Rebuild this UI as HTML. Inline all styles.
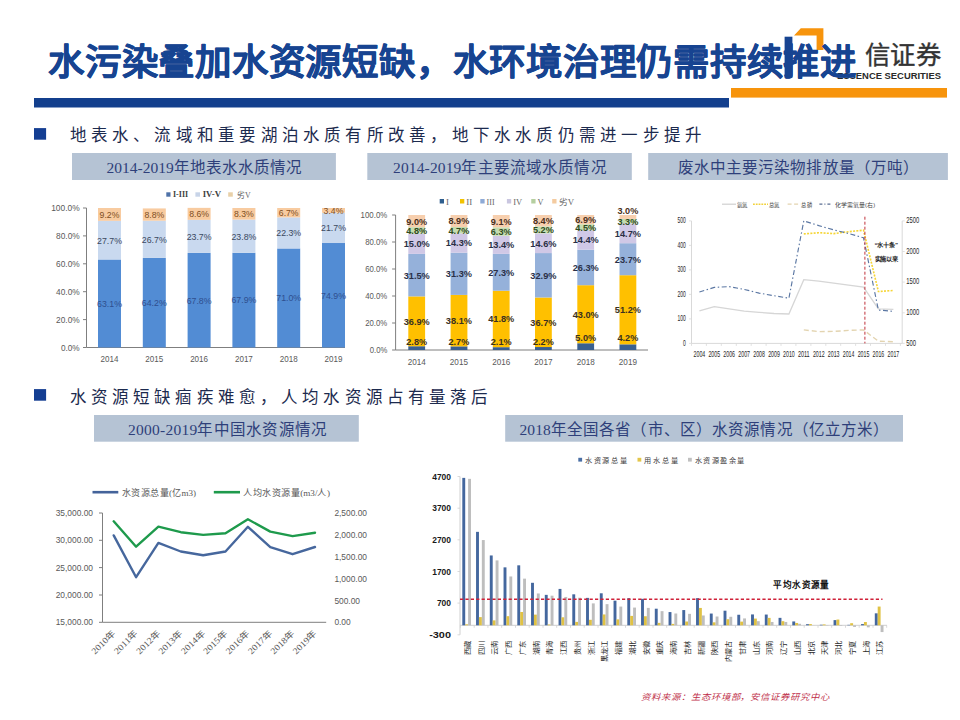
<!DOCTYPE html>
<html lang="zh-CN"><head><meta charset="utf-8"><title>slide</title>
<style>
html,body{margin:0;padding:0;background:#fff;}
body{width:960px;height:720px;overflow:hidden;position:relative;font-family:"Liberation Sans",sans-serif;}
svg{position:absolute;left:0;top:0;}
</style></head><body>
<svg width="960" height="720" viewBox="0 0 960 720">
<rect x="34" y="98" width="695" height="9.5" fill="#133F8D"/>
<rect x="731" y="88" width="216" height="9.6" fill="#F7940C"/>
<rect x="34" y="128.1" width="12.1" height="11.6" fill="#143E92"/>
<rect x="34" y="389.1" width="12.1" height="11.6" fill="#143E92"/>
<text x="69.6" y="141.3" font-size="16.5" fill="#1C2A4E" text-anchor="start" font-weight="300" font-family="'Liberation Sans',sans-serif" textLength="632.4" lengthAdjust="spacing" >地表水、流域和重要湖泊水质有所改善，地下水水质仍需进一步提升</text>
<text x="69.8" y="402.5" font-size="16.5" fill="#1C2A4E" text-anchor="start" font-weight="300" font-family="'Liberation Sans',sans-serif" textLength="418.5" lengthAdjust="spacing" >水资源短缺痼疾难愈，人均水资源占有量落后</text>
<rect x="72" y="153" width="263.9" height="27.0" fill="#B5C3D4"/>
<text x="106.4" y="173.2" font-size="15.5" fill="#2E3F7A" text-anchor="start" font-weight="300" font-family="'Liberation Serif',serif" textLength="195.6" lengthAdjust="spacing" >2014-2019年地表水水质情况</text>
<rect x="367.3" y="153" width="264.5" height="27.0" fill="#B5C3D4"/>
<text x="393.0" y="173.2" font-size="15.5" fill="#2E3F7A" text-anchor="start" font-weight="300" font-family="'Liberation Serif',serif" textLength="213.6" lengthAdjust="spacing" >2014-2019年主要流域水质情况</text>
<rect x="648.2" y="153" width="299.7" height="27.0" fill="#B5C3D4"/>
<text x="678.0" y="173.2" font-size="15.5" fill="#2E3F7A" text-anchor="start" font-weight="300" font-family="'Liberation Serif',serif" textLength="240.8" lengthAdjust="spacing" >废水中主要污染物排放量（万吨）</text>
<rect x="94" y="415" width="264.8" height="26.7" fill="#B5C3D4"/>
<text x="128.0" y="435.4" font-size="15.5" fill="#2E3F7A" text-anchor="start" font-weight="300" font-family="'Liberation Serif',serif" textLength="199.2" lengthAdjust="spacing" >2000-2019年中国水资源情况</text>
<rect x="505.2" y="415" width="397.8" height="26.7" fill="#B5C3D4"/>
<text x="519.4" y="435.4" font-size="15.5" fill="#2E3F7A" text-anchor="start" font-weight="300" font-family="'Liberation Serif',serif" textLength="369.8" lengthAdjust="spacing" >2018年全国各省（市、区）水资源情况（亿立方米）</text>
<text x="641.0" y="700.0" font-size="8.5" fill="#C0304A" text-anchor="start" font-weight="normal" font-family="'Liberation Sans',sans-serif" textLength="189.0" lengthAdjust="spacingAndGlyphs" font-style="italic">资料来源：生态环境部，安信证券研究中心</text>
<line x1="86.5" y1="208.0" x2="86.5" y2="347.5" stroke="#7f7f7f" stroke-width="1"/>
<line x1="86.5" y1="347.5" x2="345" y2="347.5" stroke="#7f7f7f" stroke-width="1"/>
<line x1="83.0" y1="347.5" x2="86.5" y2="347.5" stroke="#7f7f7f" stroke-width="1"/>
<text x="79.7" y="350.7" font-size="8.8" fill="#595959" text-anchor="end" font-weight="normal" font-family="'Liberation Sans',sans-serif" textLength="18.8" lengthAdjust="spacingAndGlyphs" >0.0%</text>
<line x1="83.0" y1="319.6" x2="86.5" y2="319.6" stroke="#7f7f7f" stroke-width="1"/>
<text x="79.7" y="322.8" font-size="8.8" fill="#595959" text-anchor="end" font-weight="normal" font-family="'Liberation Sans',sans-serif" textLength="23.6" lengthAdjust="spacingAndGlyphs" >20.0%</text>
<line x1="83.0" y1="291.7" x2="86.5" y2="291.7" stroke="#7f7f7f" stroke-width="1"/>
<text x="79.7" y="294.9" font-size="8.8" fill="#595959" text-anchor="end" font-weight="normal" font-family="'Liberation Sans',sans-serif" textLength="23.6" lengthAdjust="spacingAndGlyphs" >40.0%</text>
<line x1="83.0" y1="263.8" x2="86.5" y2="263.8" stroke="#7f7f7f" stroke-width="1"/>
<text x="79.7" y="267.0" font-size="8.8" fill="#595959" text-anchor="end" font-weight="normal" font-family="'Liberation Sans',sans-serif" textLength="23.6" lengthAdjust="spacingAndGlyphs" >60.0%</text>
<line x1="83.0" y1="235.9" x2="86.5" y2="235.9" stroke="#7f7f7f" stroke-width="1"/>
<text x="79.7" y="239.1" font-size="8.8" fill="#595959" text-anchor="end" font-weight="normal" font-family="'Liberation Sans',sans-serif" textLength="23.6" lengthAdjust="spacingAndGlyphs" >80.0%</text>
<line x1="83.0" y1="208.0" x2="86.5" y2="208.0" stroke="#7f7f7f" stroke-width="1"/>
<text x="79.7" y="211.2" font-size="8.8" fill="#595959" text-anchor="end" font-weight="normal" font-family="'Liberation Sans',sans-serif" textLength="28.5" lengthAdjust="spacingAndGlyphs" >100.0%</text>
<rect x="98.0" y="259.48" width="23" height="88.02" fill="#528CD4"/>
<rect x="98.0" y="220.83" width="23" height="38.64" fill="#C9D9EF"/>
<rect x="98.0" y="208.00" width="23" height="12.83" fill="#F8CBA0"/>
<text x="109.5" y="306.8" font-size="9.3" fill="#2F4F8F" text-anchor="middle" font-weight="normal" font-family="'Liberation Sans',sans-serif" textLength="24.9" lengthAdjust="spacingAndGlyphs" >63.1%</text>
<text x="109.5" y="243.5" font-size="9.3" fill="#3A4860" text-anchor="middle" font-weight="normal" font-family="'Liberation Sans',sans-serif" textLength="24.9" lengthAdjust="spacingAndGlyphs" >27.7%</text>
<text x="109.5" y="217.7" font-size="9.3" fill="#7F4F1F" text-anchor="middle" font-weight="normal" font-family="'Liberation Sans',sans-serif" textLength="19.8" lengthAdjust="spacingAndGlyphs" >9.2%</text>
<text x="109.5" y="361.5" font-size="9" fill="#595959" text-anchor="middle" font-weight="normal" font-family="'Liberation Sans',sans-serif" textLength="17.9" lengthAdjust="spacingAndGlyphs" >2014</text>
<rect x="142.8" y="257.94" width="23" height="89.56" fill="#528CD4"/>
<rect x="142.8" y="220.69" width="23" height="37.25" fill="#C9D9EF"/>
<rect x="142.8" y="208.42" width="23" height="12.28" fill="#F8CBA0"/>
<text x="154.3" y="306.0" font-size="9.3" fill="#2F4F8F" text-anchor="middle" font-weight="normal" font-family="'Liberation Sans',sans-serif" textLength="24.9" lengthAdjust="spacingAndGlyphs" >64.2%</text>
<text x="154.3" y="242.6" font-size="9.3" fill="#3A4860" text-anchor="middle" font-weight="normal" font-family="'Liberation Sans',sans-serif" textLength="24.9" lengthAdjust="spacingAndGlyphs" >26.7%</text>
<text x="154.3" y="217.9" font-size="9.3" fill="#7F4F1F" text-anchor="middle" font-weight="normal" font-family="'Liberation Sans',sans-serif" textLength="19.8" lengthAdjust="spacingAndGlyphs" >8.8%</text>
<text x="154.3" y="361.5" font-size="9" fill="#595959" text-anchor="middle" font-weight="normal" font-family="'Liberation Sans',sans-serif" textLength="17.9" lengthAdjust="spacingAndGlyphs" >2015</text>
<rect x="187.6" y="252.92" width="23" height="94.58" fill="#528CD4"/>
<rect x="187.6" y="219.86" width="23" height="33.06" fill="#C9D9EF"/>
<rect x="187.6" y="207.86" width="23" height="12.00" fill="#F8CBA0"/>
<text x="199.1" y="303.5" font-size="9.3" fill="#2F4F8F" text-anchor="middle" font-weight="normal" font-family="'Liberation Sans',sans-serif" textLength="24.9" lengthAdjust="spacingAndGlyphs" >67.8%</text>
<text x="199.1" y="239.7" font-size="9.3" fill="#3A4860" text-anchor="middle" font-weight="normal" font-family="'Liberation Sans',sans-serif" textLength="24.9" lengthAdjust="spacingAndGlyphs" >23.7%</text>
<text x="199.1" y="217.2" font-size="9.3" fill="#7F4F1F" text-anchor="middle" font-weight="normal" font-family="'Liberation Sans',sans-serif" textLength="19.8" lengthAdjust="spacingAndGlyphs" >8.6%</text>
<text x="199.1" y="361.5" font-size="9" fill="#595959" text-anchor="middle" font-weight="normal" font-family="'Liberation Sans',sans-serif" textLength="17.9" lengthAdjust="spacingAndGlyphs" >2016</text>
<rect x="232.4" y="252.78" width="23" height="94.72" fill="#528CD4"/>
<rect x="232.4" y="219.58" width="23" height="33.20" fill="#C9D9EF"/>
<rect x="232.4" y="208.00" width="23" height="11.58" fill="#F8CBA0"/>
<text x="243.9" y="303.4" font-size="9.3" fill="#2F4F8F" text-anchor="middle" font-weight="normal" font-family="'Liberation Sans',sans-serif" textLength="24.9" lengthAdjust="spacingAndGlyphs" >67.9%</text>
<text x="243.9" y="239.5" font-size="9.3" fill="#3A4860" text-anchor="middle" font-weight="normal" font-family="'Liberation Sans',sans-serif" textLength="24.9" lengthAdjust="spacingAndGlyphs" >23.8%</text>
<text x="243.9" y="217.1" font-size="9.3" fill="#7F4F1F" text-anchor="middle" font-weight="normal" font-family="'Liberation Sans',sans-serif" textLength="19.8" lengthAdjust="spacingAndGlyphs" >8.3%</text>
<text x="243.9" y="361.5" font-size="9" fill="#595959" text-anchor="middle" font-weight="normal" font-family="'Liberation Sans',sans-serif" textLength="17.9" lengthAdjust="spacingAndGlyphs" >2017</text>
<rect x="277.2" y="248.45" width="23" height="99.05" fill="#528CD4"/>
<rect x="277.2" y="217.35" width="23" height="31.11" fill="#C9D9EF"/>
<rect x="277.2" y="208.00" width="23" height="9.35" fill="#F8CBA0"/>
<text x="288.7" y="301.3" font-size="9.3" fill="#2F4F8F" text-anchor="middle" font-weight="normal" font-family="'Liberation Sans',sans-serif" textLength="24.9" lengthAdjust="spacingAndGlyphs" >71.0%</text>
<text x="288.7" y="236.2" font-size="9.3" fill="#3A4860" text-anchor="middle" font-weight="normal" font-family="'Liberation Sans',sans-serif" textLength="24.9" lengthAdjust="spacingAndGlyphs" >22.3%</text>
<text x="288.7" y="216.0" font-size="9.3" fill="#7F4F1F" text-anchor="middle" font-weight="normal" font-family="'Liberation Sans',sans-serif" textLength="19.8" lengthAdjust="spacingAndGlyphs" >6.7%</text>
<text x="288.7" y="361.5" font-size="9" fill="#595959" text-anchor="middle" font-weight="normal" font-family="'Liberation Sans',sans-serif" textLength="17.9" lengthAdjust="spacingAndGlyphs" >2018</text>
<rect x="322.0" y="243.01" width="23" height="104.49" fill="#528CD4"/>
<rect x="322.0" y="212.74" width="23" height="30.27" fill="#C9D9EF"/>
<rect x="322.0" y="208.00" width="23" height="4.74" fill="#F8CBA0"/>
<text x="333.5" y="298.6" font-size="9.3" fill="#2F4F8F" text-anchor="middle" font-weight="normal" font-family="'Liberation Sans',sans-serif" textLength="24.9" lengthAdjust="spacingAndGlyphs" >74.9%</text>
<text x="333.5" y="231.2" font-size="9.3" fill="#3A4860" text-anchor="middle" font-weight="normal" font-family="'Liberation Sans',sans-serif" textLength="24.9" lengthAdjust="spacingAndGlyphs" >21.7%</text>
<text x="333.5" y="213.7" font-size="9.3" fill="#7F4F1F" text-anchor="middle" font-weight="normal" font-family="'Liberation Sans',sans-serif" textLength="19.8" lengthAdjust="spacingAndGlyphs" >3.4%</text>
<text x="333.5" y="361.5" font-size="9" fill="#595959" text-anchor="middle" font-weight="normal" font-family="'Liberation Sans',sans-serif" textLength="17.9" lengthAdjust="spacingAndGlyphs" >2019</text>
<rect x="166.3" y="192.3" width="4.2" height="4.4" fill="#4F72A8"/>
<text x="173.0" y="197.3" font-size="7.8" fill="#404040" text-anchor="start" font-weight="bold" font-family="'Liberation Serif',serif" textLength="15.1" lengthAdjust="spacingAndGlyphs" >I-III</text>
<rect x="195.4" y="192.3" width="4.6" height="4.4" fill="#C8D4E8"/>
<text x="202.7" y="197.3" font-size="7.8" fill="#404040" text-anchor="start" font-weight="bold" font-family="'Liberation Serif',serif" textLength="18.3" lengthAdjust="spacingAndGlyphs" >IV-V</text>
<rect x="228.2" y="192.3" width="4.6" height="4.4" fill="#E8D0A8"/>
<text x="236.6" y="197.6" font-size="8.5" fill="#666" text-anchor="start" font-weight="normal" font-family="'Liberation Serif',serif" textLength="14.0" lengthAdjust="spacingAndGlyphs" >劣V</text>
<line x1="395.6" y1="215.0" x2="395.6" y2="350.0" stroke="#7f7f7f" stroke-width="1"/>
<line x1="395.6" y1="350.0" x2="648" y2="350.0" stroke="#7f7f7f" stroke-width="1"/>
<line x1="392.1" y1="350.0" x2="395.6" y2="350.0" stroke="#7f7f7f" stroke-width="1"/>
<text x="387.3" y="353.2" font-size="8.6" fill="#595959" text-anchor="end" font-weight="normal" font-family="'Liberation Sans',sans-serif" textLength="17.6" lengthAdjust="spacingAndGlyphs" >0.0%</text>
<line x1="392.1" y1="323.0" x2="395.6" y2="323.0" stroke="#7f7f7f" stroke-width="1"/>
<text x="387.3" y="326.2" font-size="8.6" fill="#595959" text-anchor="end" font-weight="normal" font-family="'Liberation Sans',sans-serif" textLength="22.1" lengthAdjust="spacingAndGlyphs" >20.0%</text>
<line x1="392.1" y1="296.0" x2="395.6" y2="296.0" stroke="#7f7f7f" stroke-width="1"/>
<text x="387.3" y="299.2" font-size="8.6" fill="#595959" text-anchor="end" font-weight="normal" font-family="'Liberation Sans',sans-serif" textLength="22.1" lengthAdjust="spacingAndGlyphs" >40.0%</text>
<line x1="392.1" y1="269.0" x2="395.6" y2="269.0" stroke="#7f7f7f" stroke-width="1"/>
<text x="387.3" y="272.2" font-size="8.6" fill="#595959" text-anchor="end" font-weight="normal" font-family="'Liberation Sans',sans-serif" textLength="22.1" lengthAdjust="spacingAndGlyphs" >60.0%</text>
<line x1="392.1" y1="242.0" x2="395.6" y2="242.0" stroke="#7f7f7f" stroke-width="1"/>
<text x="387.3" y="245.2" font-size="8.6" fill="#595959" text-anchor="end" font-weight="normal" font-family="'Liberation Sans',sans-serif" textLength="22.1" lengthAdjust="spacingAndGlyphs" >80.0%</text>
<line x1="392.1" y1="215.0" x2="395.6" y2="215.0" stroke="#7f7f7f" stroke-width="1"/>
<text x="387.3" y="218.2" font-size="8.6" fill="#595959" text-anchor="end" font-weight="normal" font-family="'Liberation Sans',sans-serif" textLength="26.7" lengthAdjust="spacingAndGlyphs" >100.0%</text>
<rect x="408.3" y="346.22" width="16.8" height="3.78" fill="#3A6090"/>
<rect x="408.3" y="296.40" width="16.8" height="49.82" fill="#FFC000"/>
<rect x="408.3" y="253.88" width="16.8" height="42.52" fill="#95B1DA"/>
<rect x="408.3" y="233.63" width="16.8" height="20.25" fill="#D0C8E6"/>
<rect x="408.3" y="227.15" width="16.8" height="6.48" fill="#C5DDB0"/>
<rect x="408.3" y="215.00" width="16.8" height="12.15" fill="#F7CFAE"/>
<text x="416.7" y="344.9" font-size="9.6" fill="#3a3020" text-anchor="middle" font-weight="bold" font-family="'Liberation Sans',sans-serif" textLength="20.8" lengthAdjust="spacingAndGlyphs" >2.8%</text>
<text x="416.7" y="324.7" font-size="9.6" fill="#3a3020" text-anchor="middle" font-weight="bold" font-family="'Liberation Sans',sans-serif" textLength="26.1" lengthAdjust="spacingAndGlyphs" >36.9%</text>
<text x="416.7" y="278.5" font-size="9.6" fill="#2A3048" text-anchor="middle" font-weight="bold" font-family="'Liberation Sans',sans-serif" textLength="26.1" lengthAdjust="spacingAndGlyphs" >31.5%</text>
<text x="416.7" y="247.2" font-size="9.6" fill="#2A2F45" text-anchor="middle" font-weight="bold" font-family="'Liberation Sans',sans-serif" textLength="26.1" lengthAdjust="spacingAndGlyphs" >15.0%</text>
<text x="416.7" y="233.8" font-size="9.6" fill="#2F4A20" text-anchor="middle" font-weight="bold" font-family="'Liberation Sans',sans-serif" textLength="20.8" lengthAdjust="spacingAndGlyphs" >4.8%</text>
<text x="416.7" y="224.5" font-size="9.6" fill="#4A3020" text-anchor="middle" font-weight="bold" font-family="'Liberation Sans',sans-serif" textLength="20.8" lengthAdjust="spacingAndGlyphs" >9.0%</text>
<text x="416.7" y="365.3" font-size="9" fill="#595959" text-anchor="middle" font-weight="normal" font-family="'Liberation Sans',sans-serif" textLength="18.1" lengthAdjust="spacingAndGlyphs" >2014</text>
<rect x="450.6" y="346.36" width="16.8" height="3.64" fill="#3A6090"/>
<rect x="450.6" y="294.92" width="16.8" height="51.44" fill="#FFC000"/>
<rect x="450.6" y="252.66" width="16.8" height="42.25" fill="#95B1DA"/>
<rect x="450.6" y="233.36" width="16.8" height="19.30" fill="#D0C8E6"/>
<rect x="450.6" y="227.01" width="16.8" height="6.34" fill="#C5DDB0"/>
<rect x="450.6" y="215.00" width="16.8" height="12.01" fill="#F7CFAE"/>
<text x="458.9" y="344.9" font-size="9.6" fill="#3a3020" text-anchor="middle" font-weight="bold" font-family="'Liberation Sans',sans-serif" textLength="20.8" lengthAdjust="spacingAndGlyphs" >2.7%</text>
<text x="458.9" y="324.0" font-size="9.6" fill="#3a3020" text-anchor="middle" font-weight="bold" font-family="'Liberation Sans',sans-serif" textLength="26.1" lengthAdjust="spacingAndGlyphs" >38.1%</text>
<text x="458.9" y="277.2" font-size="9.6" fill="#2A3048" text-anchor="middle" font-weight="bold" font-family="'Liberation Sans',sans-serif" textLength="26.1" lengthAdjust="spacingAndGlyphs" >31.3%</text>
<text x="458.9" y="246.4" font-size="9.6" fill="#2A2F45" text-anchor="middle" font-weight="bold" font-family="'Liberation Sans',sans-serif" textLength="26.1" lengthAdjust="spacingAndGlyphs" >14.3%</text>
<text x="458.9" y="233.6" font-size="9.6" fill="#2F4A20" text-anchor="middle" font-weight="bold" font-family="'Liberation Sans',sans-serif" textLength="20.8" lengthAdjust="spacingAndGlyphs" >4.7%</text>
<text x="458.9" y="224.4" font-size="9.6" fill="#4A3020" text-anchor="middle" font-weight="bold" font-family="'Liberation Sans',sans-serif" textLength="20.8" lengthAdjust="spacingAndGlyphs" >8.9%</text>
<text x="458.9" y="365.3" font-size="9" fill="#595959" text-anchor="middle" font-weight="normal" font-family="'Liberation Sans',sans-serif" textLength="18.1" lengthAdjust="spacingAndGlyphs" >2015</text>
<rect x="492.8" y="347.17" width="16.8" height="2.83" fill="#3A6090"/>
<rect x="492.8" y="290.74" width="16.8" height="56.43" fill="#FFC000"/>
<rect x="492.8" y="253.88" width="16.8" height="36.86" fill="#95B1DA"/>
<rect x="492.8" y="235.79" width="16.8" height="18.09" fill="#D0C8E6"/>
<rect x="492.8" y="227.28" width="16.8" height="8.50" fill="#C5DDB0"/>
<rect x="492.8" y="215.00" width="16.8" height="12.28" fill="#F7CFAE"/>
<text x="501.2" y="344.9" font-size="9.6" fill="#3a3020" text-anchor="middle" font-weight="bold" font-family="'Liberation Sans',sans-serif" textLength="20.8" lengthAdjust="spacingAndGlyphs" >2.1%</text>
<text x="501.2" y="322.4" font-size="9.6" fill="#3a3020" text-anchor="middle" font-weight="bold" font-family="'Liberation Sans',sans-serif" textLength="26.1" lengthAdjust="spacingAndGlyphs" >41.8%</text>
<text x="501.2" y="275.7" font-size="9.6" fill="#2A3048" text-anchor="middle" font-weight="bold" font-family="'Liberation Sans',sans-serif" textLength="26.1" lengthAdjust="spacingAndGlyphs" >27.3%</text>
<text x="501.2" y="248.2" font-size="9.6" fill="#2A2F45" text-anchor="middle" font-weight="bold" font-family="'Liberation Sans',sans-serif" textLength="26.1" lengthAdjust="spacingAndGlyphs" >13.4%</text>
<text x="501.2" y="234.9" font-size="9.6" fill="#2F4A20" text-anchor="middle" font-weight="bold" font-family="'Liberation Sans',sans-serif" textLength="20.8" lengthAdjust="spacingAndGlyphs" >6.3%</text>
<text x="501.2" y="224.5" font-size="9.6" fill="#4A3020" text-anchor="middle" font-weight="bold" font-family="'Liberation Sans',sans-serif" textLength="20.8" lengthAdjust="spacingAndGlyphs" >9.1%</text>
<text x="501.2" y="365.3" font-size="9" fill="#595959" text-anchor="middle" font-weight="normal" font-family="'Liberation Sans',sans-serif" textLength="18.1" lengthAdjust="spacingAndGlyphs" >2016</text>
<rect x="535.0" y="347.03" width="16.8" height="2.97" fill="#3A6090"/>
<rect x="535.0" y="297.49" width="16.8" height="49.54" fill="#FFC000"/>
<rect x="535.0" y="253.07" width="16.8" height="44.42" fill="#95B1DA"/>
<rect x="535.0" y="233.36" width="16.8" height="19.71" fill="#D0C8E6"/>
<rect x="535.0" y="226.34" width="16.8" height="7.02" fill="#C5DDB0"/>
<rect x="535.0" y="215.00" width="16.8" height="11.34" fill="#F7CFAE"/>
<text x="543.4" y="344.9" font-size="9.6" fill="#3a3020" text-anchor="middle" font-weight="bold" font-family="'Liberation Sans',sans-serif" textLength="20.8" lengthAdjust="spacingAndGlyphs" >2.2%</text>
<text x="543.4" y="325.7" font-size="9.6" fill="#3a3020" text-anchor="middle" font-weight="bold" font-family="'Liberation Sans',sans-serif" textLength="26.1" lengthAdjust="spacingAndGlyphs" >36.7%</text>
<text x="543.4" y="278.7" font-size="9.6" fill="#2A3048" text-anchor="middle" font-weight="bold" font-family="'Liberation Sans',sans-serif" textLength="26.1" lengthAdjust="spacingAndGlyphs" >32.9%</text>
<text x="543.4" y="246.6" font-size="9.6" fill="#2A2F45" text-anchor="middle" font-weight="bold" font-family="'Liberation Sans',sans-serif" textLength="26.1" lengthAdjust="spacingAndGlyphs" >14.6%</text>
<text x="543.4" y="233.2" font-size="9.6" fill="#2F4A20" text-anchor="middle" font-weight="bold" font-family="'Liberation Sans',sans-serif" textLength="20.8" lengthAdjust="spacingAndGlyphs" >5.2%</text>
<text x="543.4" y="224.1" font-size="9.6" fill="#4A3020" text-anchor="middle" font-weight="bold" font-family="'Liberation Sans',sans-serif" textLength="20.8" lengthAdjust="spacingAndGlyphs" >8.4%</text>
<text x="543.4" y="365.3" font-size="9" fill="#595959" text-anchor="middle" font-weight="normal" font-family="'Liberation Sans',sans-serif" textLength="18.1" lengthAdjust="spacingAndGlyphs" >2017</text>
<rect x="577.3" y="343.25" width="16.8" height="6.75" fill="#3A6090"/>
<rect x="577.3" y="285.20" width="16.8" height="58.05" fill="#FFC000"/>
<rect x="577.3" y="249.69" width="16.8" height="35.50" fill="#95B1DA"/>
<rect x="577.3" y="230.25" width="16.8" height="19.44" fill="#D0C8E6"/>
<rect x="577.3" y="224.18" width="16.8" height="6.07" fill="#C5DDB0"/>
<rect x="577.3" y="215.00" width="16.8" height="9.18" fill="#F7CFAE"/>
<text x="585.7" y="341.2" font-size="9.6" fill="#3a3020" text-anchor="middle" font-weight="bold" font-family="'Liberation Sans',sans-serif" textLength="20.8" lengthAdjust="spacingAndGlyphs" >5.0%</text>
<text x="585.7" y="317.6" font-size="9.6" fill="#3a3020" text-anchor="middle" font-weight="bold" font-family="'Liberation Sans',sans-serif" textLength="26.1" lengthAdjust="spacingAndGlyphs" >43.0%</text>
<text x="585.7" y="270.8" font-size="9.6" fill="#2A3048" text-anchor="middle" font-weight="bold" font-family="'Liberation Sans',sans-serif" textLength="26.1" lengthAdjust="spacingAndGlyphs" >26.3%</text>
<text x="585.7" y="243.4" font-size="9.6" fill="#2A2F45" text-anchor="middle" font-weight="bold" font-family="'Liberation Sans',sans-serif" textLength="26.1" lengthAdjust="spacingAndGlyphs" >14.4%</text>
<text x="585.7" y="230.6" font-size="9.6" fill="#2F4A20" text-anchor="middle" font-weight="bold" font-family="'Liberation Sans',sans-serif" textLength="20.8" lengthAdjust="spacingAndGlyphs" >4.5%</text>
<text x="585.7" y="222.9" font-size="9.6" fill="#4A3020" text-anchor="middle" font-weight="bold" font-family="'Liberation Sans',sans-serif" textLength="20.8" lengthAdjust="spacingAndGlyphs" >6.9%</text>
<text x="585.7" y="365.3" font-size="9" fill="#595959" text-anchor="middle" font-weight="normal" font-family="'Liberation Sans',sans-serif" textLength="18.1" lengthAdjust="spacingAndGlyphs" >2018</text>
<rect x="619.5" y="344.33" width="16.8" height="5.67" fill="#3A6090"/>
<rect x="619.5" y="275.21" width="16.8" height="69.12" fill="#FFC000"/>
<rect x="619.5" y="243.21" width="16.8" height="32.00" fill="#95B1DA"/>
<rect x="619.5" y="223.37" width="16.8" height="19.84" fill="#D0C8E6"/>
<rect x="619.5" y="218.91" width="16.8" height="4.45" fill="#C5DDB0"/>
<rect x="619.5" y="215.00" width="16.8" height="3.91" fill="#F7CFAE"/>
<text x="627.9" y="341.2" font-size="9.6" fill="#3a3020" text-anchor="middle" font-weight="bold" font-family="'Liberation Sans',sans-serif" textLength="20.8" lengthAdjust="spacingAndGlyphs" >4.2%</text>
<text x="627.9" y="313.2" font-size="9.6" fill="#3a3020" text-anchor="middle" font-weight="bold" font-family="'Liberation Sans',sans-serif" textLength="26.1" lengthAdjust="spacingAndGlyphs" >51.2%</text>
<text x="627.9" y="262.6" font-size="9.6" fill="#2A3048" text-anchor="middle" font-weight="bold" font-family="'Liberation Sans',sans-serif" textLength="26.1" lengthAdjust="spacingAndGlyphs" >23.7%</text>
<text x="627.9" y="236.7" font-size="9.6" fill="#2A2F45" text-anchor="middle" font-weight="bold" font-family="'Liberation Sans',sans-serif" textLength="26.1" lengthAdjust="spacingAndGlyphs" >14.7%</text>
<text x="627.9" y="224.9" font-size="9.6" fill="#2F4A20" text-anchor="middle" font-weight="bold" font-family="'Liberation Sans',sans-serif" textLength="20.8" lengthAdjust="spacingAndGlyphs" >3.3%</text>
<text x="627.9" y="214.4" font-size="9.6" fill="#4A3020" text-anchor="middle" font-weight="bold" font-family="'Liberation Sans',sans-serif" textLength="20.8" lengthAdjust="spacingAndGlyphs" >3.0%</text>
<text x="627.9" y="365.3" font-size="9" fill="#595959" text-anchor="middle" font-weight="normal" font-family="'Liberation Sans',sans-serif" textLength="18.1" lengthAdjust="spacingAndGlyphs" >2019</text>
<rect x="439.7" y="199" width="4.3" height="4.5" fill="#2E5E8E"/>
<text x="446.0" y="204.5" font-size="8.5" fill="#666" text-anchor="start" font-weight="normal" font-family="'Liberation Serif',serif" textLength="3.0" lengthAdjust="spacingAndGlyphs" >I</text>
<rect x="460" y="199" width="4.3" height="4.5" fill="#F2C200"/>
<text x="466.3" y="204.5" font-size="8.5" fill="#666" text-anchor="start" font-weight="normal" font-family="'Liberation Serif',serif" textLength="6.0" lengthAdjust="spacingAndGlyphs" >II</text>
<rect x="480.3" y="199" width="4.3" height="4.5" fill="#8EAAD6"/>
<text x="486.6" y="204.5" font-size="8.5" fill="#666" text-anchor="start" font-weight="normal" font-family="'Liberation Serif',serif" textLength="8.0" lengthAdjust="spacingAndGlyphs" >III</text>
<rect x="506.9" y="199" width="4.3" height="4.5" fill="#C9C6E0"/>
<text x="513.2" y="204.5" font-size="8.5" fill="#666" text-anchor="start" font-weight="normal" font-family="'Liberation Serif',serif" textLength="9.0" lengthAdjust="spacingAndGlyphs" >IV</text>
<rect x="531.25" y="199" width="4.3" height="4.5" fill="#B5CFA0"/>
<text x="537.5" y="204.5" font-size="8.5" fill="#666" text-anchor="start" font-weight="normal" font-family="'Liberation Serif',serif" textLength="6.0" lengthAdjust="spacingAndGlyphs" >V</text>
<rect x="552.2" y="199" width="4.3" height="4.5" fill="#F4CBA0"/>
<text x="558.5" y="204.5" font-size="8.5" fill="#666" text-anchor="start" font-weight="normal" font-family="'Liberation Serif',serif" textLength="15.6" lengthAdjust="spacingAndGlyphs" >劣V</text>
<line x1="691.5" y1="220.9" x2="691.5" y2="343.4" stroke="#d9d9d9" stroke-width="1"/>
<line x1="902.2" y1="220.9" x2="902.2" y2="343.4" stroke="#d9d9d9" stroke-width="1"/>
<line x1="691.5" y1="343.4" x2="902.2" y2="343.4" stroke="#d9d9d9" stroke-width="1"/>
<line x1="691.5" y1="343.4" x2="691.5" y2="345.9" stroke="#d9d9d9" stroke-width="0.8"/>
<line x1="706.4" y1="343.4" x2="706.4" y2="345.9" stroke="#d9d9d9" stroke-width="0.8"/>
<line x1="721.3" y1="343.4" x2="721.3" y2="345.9" stroke="#d9d9d9" stroke-width="0.8"/>
<line x1="736.3" y1="343.4" x2="736.3" y2="345.9" stroke="#d9d9d9" stroke-width="0.8"/>
<line x1="751.2" y1="343.4" x2="751.2" y2="345.9" stroke="#d9d9d9" stroke-width="0.8"/>
<line x1="766.1" y1="343.4" x2="766.1" y2="345.9" stroke="#d9d9d9" stroke-width="0.8"/>
<line x1="781.0" y1="343.4" x2="781.0" y2="345.9" stroke="#d9d9d9" stroke-width="0.8"/>
<line x1="795.9" y1="343.4" x2="795.9" y2="345.9" stroke="#d9d9d9" stroke-width="0.8"/>
<line x1="810.9" y1="343.4" x2="810.9" y2="345.9" stroke="#d9d9d9" stroke-width="0.8"/>
<line x1="825.8" y1="343.4" x2="825.8" y2="345.9" stroke="#d9d9d9" stroke-width="0.8"/>
<line x1="840.7" y1="343.4" x2="840.7" y2="345.9" stroke="#d9d9d9" stroke-width="0.8"/>
<line x1="855.6" y1="343.4" x2="855.6" y2="345.9" stroke="#d9d9d9" stroke-width="0.8"/>
<line x1="870.5" y1="343.4" x2="870.5" y2="345.9" stroke="#d9d9d9" stroke-width="0.8"/>
<line x1="885.5" y1="343.4" x2="885.5" y2="345.9" stroke="#d9d9d9" stroke-width="0.8"/>
<line x1="900.4" y1="343.4" x2="900.4" y2="345.9" stroke="#d9d9d9" stroke-width="0.8"/>
<line x1="689.0" y1="343.4" x2="691.5" y2="343.4" stroke="#d9d9d9" stroke-width="0.8"/>
<text x="685.9" y="345.7" font-size="8.2" fill="#262626" text-anchor="end" font-weight="normal" font-family="'Liberation Sans',sans-serif" textLength="2.8" lengthAdjust="spacingAndGlyphs" >0</text>
<line x1="689.0" y1="318.9" x2="691.5" y2="318.9" stroke="#d9d9d9" stroke-width="0.8"/>
<text x="685.9" y="321.2" font-size="8.2" fill="#262626" text-anchor="end" font-weight="normal" font-family="'Liberation Sans',sans-serif" textLength="8.3" lengthAdjust="spacingAndGlyphs" >100</text>
<line x1="689.0" y1="294.4" x2="691.5" y2="294.4" stroke="#d9d9d9" stroke-width="0.8"/>
<text x="685.9" y="296.7" font-size="8.2" fill="#262626" text-anchor="end" font-weight="normal" font-family="'Liberation Sans',sans-serif" textLength="8.3" lengthAdjust="spacingAndGlyphs" >200</text>
<line x1="689.0" y1="269.9" x2="691.5" y2="269.9" stroke="#d9d9d9" stroke-width="0.8"/>
<text x="685.9" y="272.2" font-size="8.2" fill="#262626" text-anchor="end" font-weight="normal" font-family="'Liberation Sans',sans-serif" textLength="8.3" lengthAdjust="spacingAndGlyphs" >300</text>
<line x1="689.0" y1="245.4" x2="691.5" y2="245.4" stroke="#d9d9d9" stroke-width="0.8"/>
<text x="685.9" y="247.7" font-size="8.2" fill="#262626" text-anchor="end" font-weight="normal" font-family="'Liberation Sans',sans-serif" textLength="8.3" lengthAdjust="spacingAndGlyphs" >400</text>
<line x1="689.0" y1="220.9" x2="691.5" y2="220.9" stroke="#d9d9d9" stroke-width="0.8"/>
<text x="685.9" y="223.2" font-size="8.2" fill="#262626" text-anchor="end" font-weight="normal" font-family="'Liberation Sans',sans-serif" textLength="8.3" lengthAdjust="spacingAndGlyphs" >500</text>
<line x1="902.2" y1="343.4" x2="904.7" y2="343.4" stroke="#d9d9d9" stroke-width="0.8"/>
<text x="906.2" y="345.7" font-size="8.2" fill="#262626" text-anchor="start" font-weight="normal" font-family="'Liberation Sans',sans-serif" textLength="9.8" lengthAdjust="spacingAndGlyphs" >500</text>
<line x1="902.2" y1="312.8" x2="904.7" y2="312.8" stroke="#d9d9d9" stroke-width="0.8"/>
<text x="906.2" y="315.1" font-size="8.2" fill="#262626" text-anchor="start" font-weight="normal" font-family="'Liberation Sans',sans-serif" textLength="13.0" lengthAdjust="spacingAndGlyphs" >1000</text>
<line x1="902.2" y1="282.1" x2="904.7" y2="282.1" stroke="#d9d9d9" stroke-width="0.8"/>
<text x="906.2" y="284.4" font-size="8.2" fill="#262626" text-anchor="start" font-weight="normal" font-family="'Liberation Sans',sans-serif" textLength="13.0" lengthAdjust="spacingAndGlyphs" >1500</text>
<line x1="902.2" y1="251.5" x2="904.7" y2="251.5" stroke="#d9d9d9" stroke-width="0.8"/>
<text x="906.2" y="253.8" font-size="8.2" fill="#262626" text-anchor="start" font-weight="normal" font-family="'Liberation Sans',sans-serif" textLength="13.0" lengthAdjust="spacingAndGlyphs" >2000</text>
<line x1="902.2" y1="220.9" x2="904.7" y2="220.9" stroke="#d9d9d9" stroke-width="0.8"/>
<text x="906.2" y="223.2" font-size="8.2" fill="#262626" text-anchor="start" font-weight="normal" font-family="'Liberation Sans',sans-serif" textLength="13.0" lengthAdjust="spacingAndGlyphs" >2500</text>
<text x="699.4" y="357.3" font-size="8.6" fill="#262626" text-anchor="middle" font-weight="normal" font-family="'Liberation Sans',sans-serif" textLength="11.7" lengthAdjust="spacingAndGlyphs" >2004</text>
<text x="714.3" y="357.3" font-size="8.6" fill="#262626" text-anchor="middle" font-weight="normal" font-family="'Liberation Sans',sans-serif" textLength="11.7" lengthAdjust="spacingAndGlyphs" >2005</text>
<text x="729.2" y="357.3" font-size="8.6" fill="#262626" text-anchor="middle" font-weight="normal" font-family="'Liberation Sans',sans-serif" textLength="11.7" lengthAdjust="spacingAndGlyphs" >2006</text>
<text x="744.2" y="357.3" font-size="8.6" fill="#262626" text-anchor="middle" font-weight="normal" font-family="'Liberation Sans',sans-serif" textLength="11.7" lengthAdjust="spacingAndGlyphs" >2007</text>
<text x="759.1" y="357.3" font-size="8.6" fill="#262626" text-anchor="middle" font-weight="normal" font-family="'Liberation Sans',sans-serif" textLength="11.7" lengthAdjust="spacingAndGlyphs" >2008</text>
<text x="774.0" y="357.3" font-size="8.6" fill="#262626" text-anchor="middle" font-weight="normal" font-family="'Liberation Sans',sans-serif" textLength="11.7" lengthAdjust="spacingAndGlyphs" >2009</text>
<text x="788.9" y="357.3" font-size="8.6" fill="#262626" text-anchor="middle" font-weight="normal" font-family="'Liberation Sans',sans-serif" textLength="11.7" lengthAdjust="spacingAndGlyphs" >2010</text>
<text x="803.8" y="357.3" font-size="8.6" fill="#262626" text-anchor="middle" font-weight="normal" font-family="'Liberation Sans',sans-serif" textLength="11.7" lengthAdjust="spacingAndGlyphs" >2011</text>
<text x="818.8" y="357.3" font-size="8.6" fill="#262626" text-anchor="middle" font-weight="normal" font-family="'Liberation Sans',sans-serif" textLength="11.7" lengthAdjust="spacingAndGlyphs" >2012</text>
<text x="833.7" y="357.3" font-size="8.6" fill="#262626" text-anchor="middle" font-weight="normal" font-family="'Liberation Sans',sans-serif" textLength="11.7" lengthAdjust="spacingAndGlyphs" >2013</text>
<text x="848.6" y="357.3" font-size="8.6" fill="#262626" text-anchor="middle" font-weight="normal" font-family="'Liberation Sans',sans-serif" textLength="11.7" lengthAdjust="spacingAndGlyphs" >2014</text>
<text x="863.5" y="357.3" font-size="8.6" fill="#262626" text-anchor="middle" font-weight="normal" font-family="'Liberation Sans',sans-serif" textLength="11.7" lengthAdjust="spacingAndGlyphs" >2015</text>
<text x="878.4" y="357.3" font-size="8.6" fill="#262626" text-anchor="middle" font-weight="normal" font-family="'Liberation Sans',sans-serif" textLength="11.7" lengthAdjust="spacingAndGlyphs" >2016</text>
<text x="893.4" y="357.3" font-size="8.6" fill="#262626" text-anchor="middle" font-weight="normal" font-family="'Liberation Sans',sans-serif" textLength="11.7" lengthAdjust="spacingAndGlyphs" >2017</text>
<polyline points="699.4,310.8 714.3,306.6 729.2,308.9 744.2,311.1 759.1,312.3 774.0,313.5 788.9,314.0 803.8,279.7 818.8,281.2 833.7,283.1 848.6,285.1 863.5,287.1 878.4,308.9 893.4,309.3" fill="none" stroke="#d6d6d6" stroke-width="1.3"/>
<polyline points="803.8,329.9 818.8,331.6 833.7,331.4 848.6,330.4 863.5,329.9 878.4,341.2 893.4,341.7" fill="none" stroke="#e3d4b0" stroke-width="1.4" stroke-dasharray="5,3"/>
<polyline points="803.8,233.9 818.8,232.7 833.7,233.6 848.6,231.7 863.5,230.2 878.4,291.5 893.4,290.5" fill="none" stroke="#f5d535" stroke-width="1.6" stroke-dasharray="2,1.3"/>
<polyline points="699.4,292.0 714.3,287.4 729.2,286.6 744.2,289.4 759.1,293.1 774.0,295.7 788.9,298.2 803.8,220.9 818.8,225.6 833.7,229.9 848.6,233.5 863.5,237.8 878.4,310.0 893.4,311.4" fill="none" stroke="#5b77a3" stroke-width="1.15" stroke-dasharray="5,2.5,1.5,2.5"/>
<line x1="864.9" y1="216.7" x2="864.9" y2="343.4" stroke="#C0303A" stroke-width="1" stroke-dasharray="3,2"/>
<text x="874.4" y="246.6" font-size="6.2" fill="#222" text-anchor="start" font-weight="bold" font-family="'Liberation Sans',sans-serif" textLength="23.6" lengthAdjust="spacing" >“水十条”</text>
<text x="874.6" y="261.1" font-size="6.2" fill="#222" text-anchor="start" font-weight="bold" font-family="'Liberation Sans',sans-serif" textLength="23.4" lengthAdjust="spacing" >实施以来</text>
<line x1="722" y1="204.2" x2="736" y2="204.2" stroke="#d0d0d0" stroke-width="1.2"/>
<text x="736.8" y="206.5" font-size="5.8" fill="#444" text-anchor="start" font-weight="normal" font-family="'Liberation Sans',sans-serif" textLength="11.0" lengthAdjust="spacingAndGlyphs" >氨氮</text>
<line x1="753" y1="204.2" x2="768" y2="204.2" stroke="#f2d23a" stroke-width="1.6" stroke-dasharray="1.8,1"/>
<text x="768.8" y="206.5" font-size="5.8" fill="#444" text-anchor="start" font-weight="normal" font-family="'Liberation Sans',sans-serif" textLength="11.0" lengthAdjust="spacingAndGlyphs" >总氮</text>
<line x1="787.6" y1="204.2" x2="800.8" y2="204.2" stroke="#e3d4b0" stroke-width="1.2" stroke-dasharray="4,2.5"/>
<text x="801.2" y="206.5" font-size="5.8" fill="#444" text-anchor="start" font-weight="normal" font-family="'Liberation Sans',sans-serif" textLength="11.0" lengthAdjust="spacingAndGlyphs" >总磷</text>
<line x1="819.4" y1="204.2" x2="831.8" y2="204.2" stroke="#5a6e92" stroke-width="1.2" stroke-dasharray="3,2,1,2"/>
<text x="834.5" y="206.5" font-size="5.8" fill="#444" text-anchor="start" font-weight="normal" font-family="'Liberation Sans',sans-serif" textLength="40.7" lengthAdjust="spacingAndGlyphs" >化学需氧量(右)</text>
<line x1="102.5" y1="513.0" x2="102.5" y2="622.3" stroke="#7f7f7f" stroke-width="1"/>
<line x1="102.5" y1="622.3" x2="326.2" y2="622.3" stroke="#7f7f7f" stroke-width="1"/>
<line x1="99.0" y1="513.0" x2="102.5" y2="513.0" stroke="#7f7f7f" stroke-width="1"/>
<text x="93.0" y="516.1" font-size="8.7" fill="#595959" text-anchor="end" font-weight="normal" font-family="'Liberation Sans',sans-serif" textLength="37.3" lengthAdjust="spacingAndGlyphs" >35,000.00</text>
<line x1="99.0" y1="540.3" x2="102.5" y2="540.3" stroke="#7f7f7f" stroke-width="1"/>
<text x="93.0" y="543.4" font-size="8.7" fill="#595959" text-anchor="end" font-weight="normal" font-family="'Liberation Sans',sans-serif" textLength="37.3" lengthAdjust="spacingAndGlyphs" >30,000.00</text>
<line x1="99.0" y1="567.6" x2="102.5" y2="567.6" stroke="#7f7f7f" stroke-width="1"/>
<text x="93.0" y="570.8" font-size="8.7" fill="#595959" text-anchor="end" font-weight="normal" font-family="'Liberation Sans',sans-serif" textLength="37.3" lengthAdjust="spacingAndGlyphs" >25,000.00</text>
<line x1="99.0" y1="595.0" x2="102.5" y2="595.0" stroke="#7f7f7f" stroke-width="1"/>
<text x="93.0" y="598.1" font-size="8.7" fill="#595959" text-anchor="end" font-weight="normal" font-family="'Liberation Sans',sans-serif" textLength="37.3" lengthAdjust="spacingAndGlyphs" >20,000.00</text>
<line x1="99.0" y1="622.3" x2="102.5" y2="622.3" stroke="#7f7f7f" stroke-width="1"/>
<text x="93.0" y="625.4" font-size="8.7" fill="#595959" text-anchor="end" font-weight="normal" font-family="'Liberation Sans',sans-serif" textLength="37.3" lengthAdjust="spacingAndGlyphs" >15,000.00</text>
<text x="334.4" y="516.1" font-size="8.7" fill="#595959" text-anchor="start" font-weight="normal" font-family="'Liberation Sans',sans-serif" textLength="32.6" lengthAdjust="spacingAndGlyphs" >2,500.00</text>
<text x="334.4" y="538.0" font-size="8.7" fill="#595959" text-anchor="start" font-weight="normal" font-family="'Liberation Sans',sans-serif" textLength="32.6" lengthAdjust="spacingAndGlyphs" >2,000.00</text>
<text x="334.4" y="559.8" font-size="8.7" fill="#595959" text-anchor="start" font-weight="normal" font-family="'Liberation Sans',sans-serif" textLength="32.6" lengthAdjust="spacingAndGlyphs" >1,500.00</text>
<text x="334.4" y="581.7" font-size="8.7" fill="#595959" text-anchor="start" font-weight="normal" font-family="'Liberation Sans',sans-serif" textLength="32.6" lengthAdjust="spacingAndGlyphs" >1,000.00</text>
<text x="334.4" y="603.5" font-size="8.7" fill="#595959" text-anchor="start" font-weight="normal" font-family="'Liberation Sans',sans-serif" textLength="25.6" lengthAdjust="spacingAndGlyphs" >500.00</text>
<text x="334.4" y="625.4" font-size="8.7" fill="#595959" text-anchor="start" font-weight="normal" font-family="'Liberation Sans',sans-serif" textLength="16.3" lengthAdjust="spacingAndGlyphs" >0.00</text>
<polyline points="113.7,535.4 136.1,577.2 158.4,542.9 180.8,551.5 203.2,555.3 225.5,551.5 247.9,526.8 270.3,547.1 292.6,554.2 315.0,547.0" fill="none" stroke="#46679D" stroke-width="2.4" stroke-linejoin="round" stroke-linecap="round"/>
<polyline points="113.7,521.3 136.1,546.7 158.4,526.7 180.8,532.2 203.2,534.9 225.5,533.2 247.9,519.3 270.3,531.6 292.6,536.1 315.0,532.7" fill="none" stroke="#1E9A4C" stroke-width="2.4" stroke-linejoin="round" stroke-linecap="round"/>
<text transform="translate(116.2,633.5) rotate(-45)" x="0" y="0" font-size="8.8" fill="#595959" text-anchor="end" font-family="'Liberation Serif',serif" textLength="30" lengthAdjust="spacingAndGlyphs">2010年</text>
<text transform="translate(138.6,633.5) rotate(-45)" x="0" y="0" font-size="8.8" fill="#595959" text-anchor="end" font-family="'Liberation Serif',serif" textLength="30" lengthAdjust="spacingAndGlyphs">2011年</text>
<text transform="translate(160.9,633.5) rotate(-45)" x="0" y="0" font-size="8.8" fill="#595959" text-anchor="end" font-family="'Liberation Serif',serif" textLength="30" lengthAdjust="spacingAndGlyphs">2012年</text>
<text transform="translate(183.3,633.5) rotate(-45)" x="0" y="0" font-size="8.8" fill="#595959" text-anchor="end" font-family="'Liberation Serif',serif" textLength="30" lengthAdjust="spacingAndGlyphs">2013年</text>
<text transform="translate(205.7,633.5) rotate(-45)" x="0" y="0" font-size="8.8" fill="#595959" text-anchor="end" font-family="'Liberation Serif',serif" textLength="30" lengthAdjust="spacingAndGlyphs">2014年</text>
<text transform="translate(228.0,633.5) rotate(-45)" x="0" y="0" font-size="8.8" fill="#595959" text-anchor="end" font-family="'Liberation Serif',serif" textLength="30" lengthAdjust="spacingAndGlyphs">2015年</text>
<text transform="translate(250.4,633.5) rotate(-45)" x="0" y="0" font-size="8.8" fill="#595959" text-anchor="end" font-family="'Liberation Serif',serif" textLength="30" lengthAdjust="spacingAndGlyphs">2016年</text>
<text transform="translate(272.8,633.5) rotate(-45)" x="0" y="0" font-size="8.8" fill="#595959" text-anchor="end" font-family="'Liberation Serif',serif" textLength="30" lengthAdjust="spacingAndGlyphs">2017年</text>
<text transform="translate(295.1,633.5) rotate(-45)" x="0" y="0" font-size="8.8" fill="#595959" text-anchor="end" font-family="'Liberation Serif',serif" textLength="30" lengthAdjust="spacingAndGlyphs">2018年</text>
<text transform="translate(317.5,633.5) rotate(-45)" x="0" y="0" font-size="8.8" fill="#595959" text-anchor="end" font-family="'Liberation Serif',serif" textLength="30" lengthAdjust="spacingAndGlyphs">2019年</text>
<line x1="92.5" y1="492.2" x2="118.3" y2="492.2" stroke="#44639A" stroke-width="2.6"/>
<text x="121.7" y="495.5" font-size="8.6" fill="#595959" text-anchor="start" font-weight="normal" font-family="'Liberation Serif',serif" textLength="74.3" lengthAdjust="spacingAndGlyphs" >水资源总量(亿m3)</text>
<line x1="213.8" y1="492.2" x2="240" y2="492.2" stroke="#1E9A4C" stroke-width="2.6"/>
<text x="243.0" y="495.5" font-size="8.6" fill="#595959" text-anchor="start" font-weight="normal" font-family="'Liberation Serif',serif" textLength="87.0" lengthAdjust="spacingAndGlyphs" >人均水资源量(m3/人)</text>
<line x1="460.0" y1="476.5" x2="460.0" y2="634.8" stroke="#d0d0d0" stroke-width="1"/>
<line x1="460.0" y1="625.3" x2="887" y2="625.3" stroke="#d0d0d0" stroke-width="1"/>
<line x1="460.4" y1="625.3" x2="460.4" y2="627.8" stroke="#d0d0d0" stroke-width="0.8"/>
<line x1="474.2" y1="625.3" x2="474.2" y2="627.8" stroke="#d0d0d0" stroke-width="0.8"/>
<line x1="487.9" y1="625.3" x2="487.9" y2="627.8" stroke="#d0d0d0" stroke-width="0.8"/>
<line x1="501.7" y1="625.3" x2="501.7" y2="627.8" stroke="#d0d0d0" stroke-width="0.8"/>
<line x1="515.5" y1="625.3" x2="515.5" y2="627.8" stroke="#d0d0d0" stroke-width="0.8"/>
<line x1="529.2" y1="625.3" x2="529.2" y2="627.8" stroke="#d0d0d0" stroke-width="0.8"/>
<line x1="543.0" y1="625.3" x2="543.0" y2="627.8" stroke="#d0d0d0" stroke-width="0.8"/>
<line x1="556.7" y1="625.3" x2="556.7" y2="627.8" stroke="#d0d0d0" stroke-width="0.8"/>
<line x1="570.5" y1="625.3" x2="570.5" y2="627.8" stroke="#d0d0d0" stroke-width="0.8"/>
<line x1="584.2" y1="625.3" x2="584.2" y2="627.8" stroke="#d0d0d0" stroke-width="0.8"/>
<line x1="598.0" y1="625.3" x2="598.0" y2="627.8" stroke="#d0d0d0" stroke-width="0.8"/>
<line x1="611.7" y1="625.3" x2="611.7" y2="627.8" stroke="#d0d0d0" stroke-width="0.8"/>
<line x1="625.5" y1="625.3" x2="625.5" y2="627.8" stroke="#d0d0d0" stroke-width="0.8"/>
<line x1="639.2" y1="625.3" x2="639.2" y2="627.8" stroke="#d0d0d0" stroke-width="0.8"/>
<line x1="653.0" y1="625.3" x2="653.0" y2="627.8" stroke="#d0d0d0" stroke-width="0.8"/>
<line x1="666.7" y1="625.3" x2="666.7" y2="627.8" stroke="#d0d0d0" stroke-width="0.8"/>
<line x1="680.5" y1="625.3" x2="680.5" y2="627.8" stroke="#d0d0d0" stroke-width="0.8"/>
<line x1="694.2" y1="625.3" x2="694.2" y2="627.8" stroke="#d0d0d0" stroke-width="0.8"/>
<line x1="708.0" y1="625.3" x2="708.0" y2="627.8" stroke="#d0d0d0" stroke-width="0.8"/>
<line x1="721.7" y1="625.3" x2="721.7" y2="627.8" stroke="#d0d0d0" stroke-width="0.8"/>
<line x1="735.5" y1="625.3" x2="735.5" y2="627.8" stroke="#d0d0d0" stroke-width="0.8"/>
<line x1="749.2" y1="625.3" x2="749.2" y2="627.8" stroke="#d0d0d0" stroke-width="0.8"/>
<line x1="763.0" y1="625.3" x2="763.0" y2="627.8" stroke="#d0d0d0" stroke-width="0.8"/>
<line x1="776.7" y1="625.3" x2="776.7" y2="627.8" stroke="#d0d0d0" stroke-width="0.8"/>
<line x1="790.5" y1="625.3" x2="790.5" y2="627.8" stroke="#d0d0d0" stroke-width="0.8"/>
<line x1="804.2" y1="625.3" x2="804.2" y2="627.8" stroke="#d0d0d0" stroke-width="0.8"/>
<line x1="818.0" y1="625.3" x2="818.0" y2="627.8" stroke="#d0d0d0" stroke-width="0.8"/>
<line x1="831.7" y1="625.3" x2="831.7" y2="627.8" stroke="#d0d0d0" stroke-width="0.8"/>
<line x1="845.5" y1="625.3" x2="845.5" y2="627.8" stroke="#d0d0d0" stroke-width="0.8"/>
<line x1="859.2" y1="625.3" x2="859.2" y2="627.8" stroke="#d0d0d0" stroke-width="0.8"/>
<line x1="873.0" y1="625.3" x2="873.0" y2="627.8" stroke="#d0d0d0" stroke-width="0.8"/>
<line x1="886.7" y1="625.3" x2="886.7" y2="627.8" stroke="#d0d0d0" stroke-width="0.8"/>
<line x1="457.5" y1="476.5" x2="460.0" y2="476.5" stroke="#d0d0d0" stroke-width="0.8"/>
<text x="451.0" y="479.5" font-size="8.3" fill="#1a1a1a" text-anchor="end" font-weight="bold" font-family="'Liberation Sans',sans-serif" textLength="18.8" lengthAdjust="spacingAndGlyphs" >4700</text>
<line x1="457.5" y1="508.2" x2="460.0" y2="508.2" stroke="#d0d0d0" stroke-width="0.8"/>
<text x="451.0" y="511.2" font-size="8.3" fill="#1a1a1a" text-anchor="end" font-weight="bold" font-family="'Liberation Sans',sans-serif" textLength="18.8" lengthAdjust="spacingAndGlyphs" >3700</text>
<line x1="457.5" y1="539.8" x2="460.0" y2="539.8" stroke="#d0d0d0" stroke-width="0.8"/>
<text x="451.0" y="542.8" font-size="8.3" fill="#1a1a1a" text-anchor="end" font-weight="bold" font-family="'Liberation Sans',sans-serif" textLength="18.8" lengthAdjust="spacingAndGlyphs" >2700</text>
<line x1="457.5" y1="571.5" x2="460.0" y2="571.5" stroke="#d0d0d0" stroke-width="0.8"/>
<text x="451.0" y="574.5" font-size="8.3" fill="#1a1a1a" text-anchor="end" font-weight="bold" font-family="'Liberation Sans',sans-serif" textLength="18.8" lengthAdjust="spacingAndGlyphs" >1700</text>
<line x1="457.5" y1="603.1" x2="460.0" y2="603.1" stroke="#d0d0d0" stroke-width="0.8"/>
<text x="451.0" y="606.1" font-size="8.3" fill="#1a1a1a" text-anchor="end" font-weight="bold" font-family="'Liberation Sans',sans-serif" textLength="14.1" lengthAdjust="spacingAndGlyphs" >700</text>
<line x1="457.5" y1="634.8" x2="460.0" y2="634.8" stroke="#d0d0d0" stroke-width="0.8"/>
<text x="451.0" y="637.8" font-size="8.3" fill="#1a1a1a" text-anchor="end" font-weight="bold" font-family="'Liberation Sans',sans-serif" textLength="21.8" lengthAdjust="spacingAndGlyphs" >-300</text>
<rect x="462.30" y="477.87" width="2.9" height="147.43" fill="#44679E"/>
<rect x="465.20" y="624.31" width="2.9" height="0.99" fill="#E0C244"/>
<rect x="468.10" y="478.86" width="2.9" height="146.44" fill="#BEBEBE"/>
<text transform="translate(469.9,641) rotate(-90)" x="0" y="0" font-size="7.3" fill="#2a2a2a" text-anchor="end" font-family="'Liberation Serif',serif">西藏</text>
<rect x="476.05" y="531.85" width="2.9" height="93.45" fill="#44679E"/>
<rect x="478.95" y="617.10" width="2.9" height="8.20" fill="#E0C244"/>
<rect x="481.85" y="540.05" width="2.9" height="85.25" fill="#BEBEBE"/>
<text transform="translate(483.7,641) rotate(-90)" x="0" y="0" font-size="7.3" fill="#2a2a2a" text-anchor="end" font-family="'Liberation Serif',serif">四川</text>
<rect x="489.80" y="555.46" width="2.9" height="69.84" fill="#44679E"/>
<rect x="492.70" y="620.37" width="2.9" height="4.93" fill="#E0C244"/>
<rect x="495.60" y="560.39" width="2.9" height="64.91" fill="#BEBEBE"/>
<text transform="translate(497.4,641) rotate(-90)" x="0" y="0" font-size="7.3" fill="#2a2a2a" text-anchor="end" font-family="'Liberation Serif',serif">云南</text>
<rect x="503.55" y="567.35" width="2.9" height="57.95" fill="#44679E"/>
<rect x="506.45" y="616.19" width="2.9" height="9.11" fill="#E0C244"/>
<rect x="509.35" y="576.46" width="2.9" height="48.84" fill="#BEBEBE"/>
<text transform="translate(511.2,641) rotate(-90)" x="0" y="0" font-size="7.3" fill="#2a2a2a" text-anchor="end" font-family="'Liberation Serif',serif">广西</text>
<rect x="517.30" y="565.32" width="2.9" height="59.98" fill="#44679E"/>
<rect x="520.20" y="611.98" width="2.9" height="13.32" fill="#E0C244"/>
<rect x="523.10" y="578.64" width="2.9" height="46.66" fill="#BEBEBE"/>
<text transform="translate(524.9,641) rotate(-90)" x="0" y="0" font-size="7.3" fill="#2a2a2a" text-anchor="end" font-family="'Liberation Serif',serif">广东</text>
<rect x="531.05" y="582.80" width="2.9" height="42.50" fill="#44679E"/>
<rect x="533.95" y="614.63" width="2.9" height="10.67" fill="#E0C244"/>
<rect x="536.85" y="593.46" width="2.9" height="31.84" fill="#BEBEBE"/>
<text transform="translate(538.7,641) rotate(-90)" x="0" y="0" font-size="7.3" fill="#2a2a2a" text-anchor="end" font-family="'Liberation Serif',serif">湖南</text>
<rect x="544.80" y="594.86" width="2.9" height="30.44" fill="#44679E"/>
<rect x="547.70" y="624.47" width="2.9" height="0.83" fill="#E0C244"/>
<rect x="550.60" y="595.68" width="2.9" height="29.62" fill="#BEBEBE"/>
<text transform="translate(552.4,641) rotate(-90)" x="0" y="0" font-size="7.3" fill="#2a2a2a" text-anchor="end" font-family="'Liberation Serif',serif">青海</text>
<rect x="558.55" y="588.92" width="2.9" height="36.38" fill="#44679E"/>
<rect x="561.45" y="617.29" width="2.9" height="8.01" fill="#E0C244"/>
<rect x="564.35" y="596.94" width="2.9" height="28.36" fill="#BEBEBE"/>
<text transform="translate(566.2,641) rotate(-90)" x="0" y="0" font-size="7.3" fill="#2a2a2a" text-anchor="end" font-family="'Liberation Serif',serif">江西</text>
<rect x="572.30" y="594.32" width="2.9" height="30.98" fill="#44679E"/>
<rect x="575.20" y="621.88" width="2.9" height="3.42" fill="#E0C244"/>
<rect x="578.10" y="597.74" width="2.9" height="27.56" fill="#BEBEBE"/>
<text transform="translate(579.9,641) rotate(-90)" x="0" y="0" font-size="7.3" fill="#2a2a2a" text-anchor="end" font-family="'Liberation Serif',serif">贵州</text>
<rect x="586.05" y="597.88" width="2.9" height="27.42" fill="#44679E"/>
<rect x="588.95" y="619.80" width="2.9" height="5.50" fill="#E0C244"/>
<rect x="591.85" y="603.39" width="2.9" height="21.91" fill="#BEBEBE"/>
<text transform="translate(593.7,641) rotate(-90)" x="0" y="0" font-size="7.3" fill="#2a2a2a" text-anchor="end" font-family="'Liberation Serif',serif">浙江</text>
<rect x="599.80" y="593.29" width="2.9" height="32.01" fill="#44679E"/>
<rect x="602.70" y="614.44" width="2.9" height="10.86" fill="#E0C244"/>
<rect x="605.60" y="604.15" width="2.9" height="21.15" fill="#BEBEBE"/>
<text transform="translate(607.4,641) rotate(-90)" x="0" y="0" font-size="7.3" fill="#2a2a2a" text-anchor="end" font-family="'Liberation Serif',serif">黑龙江</text>
<rect x="613.55" y="600.66" width="2.9" height="24.64" fill="#44679E"/>
<rect x="616.45" y="619.38" width="2.9" height="5.92" fill="#E0C244"/>
<rect x="619.35" y="606.58" width="2.9" height="18.72" fill="#BEBEBE"/>
<text transform="translate(621.2,641) rotate(-90)" x="0" y="0" font-size="7.3" fill="#2a2a2a" text-anchor="end" font-family="'Liberation Serif',serif">福建</text>
<rect x="627.30" y="598.18" width="2.9" height="27.12" fill="#44679E"/>
<rect x="630.20" y="615.90" width="2.9" height="9.40" fill="#E0C244"/>
<rect x="633.10" y="607.57" width="2.9" height="17.73" fill="#BEBEBE"/>
<text transform="translate(634.9,641) rotate(-90)" x="0" y="0" font-size="7.3" fill="#2a2a2a" text-anchor="end" font-family="'Liberation Serif',serif">湖北</text>
<rect x="641.05" y="598.85" width="2.9" height="26.45" fill="#44679E"/>
<rect x="643.95" y="616.25" width="2.9" height="9.05" fill="#E0C244"/>
<rect x="646.85" y="607.89" width="2.9" height="17.41" fill="#BEBEBE"/>
<text transform="translate(648.7,641) rotate(-90)" x="0" y="0" font-size="7.3" fill="#2a2a2a" text-anchor="end" font-family="'Liberation Serif',serif">安徽</text>
<rect x="654.80" y="608.71" width="2.9" height="16.59" fill="#44679E"/>
<rect x="657.70" y="622.86" width="2.9" height="2.44" fill="#E0C244"/>
<rect x="660.60" y="611.15" width="2.9" height="14.15" fill="#BEBEBE"/>
<text transform="translate(662.4,641) rotate(-90)" x="0" y="0" font-size="7.3" fill="#2a2a2a" text-anchor="end" font-family="'Liberation Serif',serif">重庆</text>
<rect x="668.55" y="612.07" width="2.9" height="13.23" fill="#44679E"/>
<rect x="671.45" y="623.88" width="2.9" height="1.42" fill="#E0C244"/>
<rect x="674.35" y="613.49" width="2.9" height="11.81" fill="#BEBEBE"/>
<text transform="translate(676.2,641) rotate(-90)" x="0" y="0" font-size="7.3" fill="#2a2a2a" text-anchor="end" font-family="'Liberation Serif',serif">海南</text>
<rect x="682.30" y="610.07" width="2.9" height="15.23" fill="#44679E"/>
<rect x="685.20" y="621.52" width="2.9" height="3.78" fill="#E0C244"/>
<rect x="688.10" y="613.85" width="2.9" height="11.45" fill="#BEBEBE"/>
<text transform="translate(689.9,641) rotate(-90)" x="0" y="0" font-size="7.3" fill="#2a2a2a" text-anchor="end" font-family="'Liberation Serif',serif">吉林</text>
<rect x="696.05" y="598.12" width="2.9" height="27.18" fill="#44679E"/>
<rect x="698.95" y="607.93" width="2.9" height="17.37" fill="#E0C244"/>
<rect x="701.85" y="615.49" width="2.9" height="9.81" fill="#BEBEBE"/>
<text transform="translate(703.7,641) rotate(-90)" x="0" y="0" font-size="7.3" fill="#2a2a2a" text-anchor="end" font-family="'Liberation Serif',serif">新疆</text>
<rect x="709.80" y="613.55" width="2.9" height="11.75" fill="#44679E"/>
<rect x="712.70" y="622.33" width="2.9" height="2.97" fill="#E0C244"/>
<rect x="715.60" y="616.51" width="2.9" height="8.79" fill="#BEBEBE"/>
<text transform="translate(717.4,641) rotate(-90)" x="0" y="0" font-size="7.3" fill="#2a2a2a" text-anchor="end" font-family="'Liberation Serif',serif">陕西</text>
<rect x="723.55" y="610.69" width="2.9" height="14.61" fill="#44679E"/>
<rect x="726.45" y="619.22" width="2.9" height="6.08" fill="#E0C244"/>
<rect x="729.35" y="616.77" width="2.9" height="8.53" fill="#BEBEBE"/>
<text transform="translate(731.2,641) rotate(-90)" x="0" y="0" font-size="7.3" fill="#2a2a2a" text-anchor="end" font-family="'Liberation Serif',serif">内蒙古</text>
<rect x="737.30" y="614.75" width="2.9" height="10.55" fill="#44679E"/>
<rect x="740.20" y="621.63" width="2.9" height="3.67" fill="#E0C244"/>
<rect x="743.10" y="618.42" width="2.9" height="6.88" fill="#BEBEBE"/>
<text transform="translate(744.9,641) rotate(-90)" x="0" y="0" font-size="7.3" fill="#2a2a2a" text-anchor="end" font-family="'Liberation Serif',serif">甘肃</text>
<rect x="751.05" y="614.43" width="2.9" height="10.87" fill="#44679E"/>
<rect x="753.95" y="618.57" width="2.9" height="6.73" fill="#E0C244"/>
<rect x="756.85" y="621.17" width="2.9" height="4.13" fill="#BEBEBE"/>
<text transform="translate(758.7,641) rotate(-90)" x="0" y="0" font-size="7.3" fill="#2a2a2a" text-anchor="end" font-family="'Liberation Serif',serif">山东</text>
<rect x="764.80" y="614.55" width="2.9" height="10.75" fill="#44679E"/>
<rect x="767.70" y="617.87" width="2.9" height="7.43" fill="#E0C244"/>
<rect x="770.60" y="621.97" width="2.9" height="3.33" fill="#BEBEBE"/>
<text transform="translate(772.4,641) rotate(-90)" x="0" y="0" font-size="7.3" fill="#2a2a2a" text-anchor="end" font-family="'Liberation Serif',serif">河南</text>
<rect x="778.55" y="617.85" width="2.9" height="7.45" fill="#44679E"/>
<rect x="781.45" y="621.18" width="2.9" height="4.12" fill="#E0C244"/>
<rect x="784.35" y="621.97" width="2.9" height="3.33" fill="#BEBEBE"/>
<text transform="translate(786.2,641) rotate(-90)" x="0" y="0" font-size="7.3" fill="#2a2a2a" text-anchor="end" font-family="'Liberation Serif',serif">辽宁</text>
<rect x="792.30" y="621.44" width="2.9" height="3.86" fill="#44679E"/>
<rect x="795.20" y="622.95" width="2.9" height="2.35" fill="#E0C244"/>
<rect x="798.10" y="623.79" width="2.9" height="1.51" fill="#BEBEBE"/>
<text transform="translate(799.9,641) rotate(-90)" x="0" y="0" font-size="7.3" fill="#2a2a2a" text-anchor="end" font-family="'Liberation Serif',serif">山西</text>
<rect x="806.05" y="624.18" width="2.9" height="1.12" fill="#44679E"/>
<rect x="808.95" y="624.06" width="2.9" height="1.24" fill="#E0C244"/>
<rect x="811.85" y="625.30" width="2.9" height="0.12" fill="#BEBEBE"/>
<text transform="translate(813.7,641) rotate(-90)" x="0" y="0" font-size="7.3" fill="#2a2a2a" text-anchor="end" font-family="'Liberation Serif',serif">北京</text>
<rect x="819.80" y="624.74" width="2.9" height="0.56" fill="#44679E"/>
<rect x="822.70" y="624.40" width="2.9" height="0.90" fill="#E0C244"/>
<rect x="825.60" y="625.30" width="2.9" height="0.34" fill="#BEBEBE"/>
<text transform="translate(827.4,641) rotate(-90)" x="0" y="0" font-size="7.3" fill="#2a2a2a" text-anchor="end" font-family="'Liberation Serif',serif">天津</text>
<rect x="833.55" y="620.11" width="2.9" height="5.19" fill="#44679E"/>
<rect x="836.45" y="619.53" width="2.9" height="5.77" fill="#E0C244"/>
<rect x="839.35" y="625.30" width="2.9" height="0.58" fill="#BEBEBE"/>
<text transform="translate(841.2,641) rotate(-90)" x="0" y="0" font-size="7.3" fill="#2a2a2a" text-anchor="end" font-family="'Liberation Serif',serif">河北</text>
<rect x="847.30" y="624.83" width="2.9" height="0.47" fill="#44679E"/>
<rect x="850.20" y="623.20" width="2.9" height="2.10" fill="#E0C244"/>
<rect x="853.10" y="625.30" width="2.9" height="1.63" fill="#BEBEBE"/>
<text transform="translate(854.9,641) rotate(-90)" x="0" y="0" font-size="7.3" fill="#2a2a2a" text-anchor="end" font-family="'Liberation Serif',serif">宁夏</text>
<rect x="861.05" y="624.08" width="2.9" height="1.22" fill="#44679E"/>
<rect x="863.95" y="622.03" width="2.9" height="3.27" fill="#E0C244"/>
<rect x="866.85" y="625.30" width="2.9" height="2.05" fill="#BEBEBE"/>
<text transform="translate(868.7,641) rotate(-90)" x="0" y="0" font-size="7.3" fill="#2a2a2a" text-anchor="end" font-family="'Liberation Serif',serif">上海</text>
<rect x="874.80" y="613.32" width="2.9" height="11.98" fill="#44679E"/>
<rect x="877.70" y="606.56" width="2.9" height="18.74" fill="#E0C244"/>
<rect x="880.60" y="625.30" width="2.9" height="6.76" fill="#BEBEBE"/>
<text transform="translate(882.4,641) rotate(-90)" x="0" y="0" font-size="7.3" fill="#2a2a2a" text-anchor="end" font-family="'Liberation Serif',serif">江苏</text>
<line x1="460.0" y1="599.2" x2="882.5" y2="599.2" stroke="#CF2038" stroke-width="1.5" stroke-dasharray="3.2,2.2"/>
<text x="773.3" y="588.3" font-size="8.6" fill="#111" text-anchor="start" font-weight="bold" font-family="'Liberation Sans',sans-serif" textLength="56.0" lengthAdjust="spacing" >平均水资源量</text>
<rect x="578.3" y="457.8" width="3.8" height="3.8" fill="#4A6FA5"/>
<text x="585.0" y="462.6" font-size="7.2" fill="#404040" text-anchor="start" font-weight="normal" font-family="'Liberation Sans',sans-serif" textLength="41.7" lengthAdjust="spacing" >水资源总量</text>
<rect x="637.5" y="457.8" width="3.8" height="3.8" fill="#E3C64A"/>
<text x="644.2" y="462.6" font-size="7.2" fill="#404040" text-anchor="start" font-weight="normal" font-family="'Liberation Sans',sans-serif" textLength="33.3" lengthAdjust="spacing" >用水总量</text>
<rect x="688" y="457.8" width="3.8" height="3.8" fill="#C0C0C0"/>
<text x="694.7" y="462.6" font-size="7.2" fill="#404040" text-anchor="start" font-weight="normal" font-family="'Liberation Sans',sans-serif" textLength="49.4" lengthAdjust="spacing" >水资源盈余量</text>
<path d="M800.8,28.3 L823.4,28.3 L823.4,50 L816.6,50 L816.6,35.5 L794,35.5 Z" fill="#F7940C"/>
<rect x="784.6" y="36.7" width="7.8" height="41" fill="#174491"/>
<text x="865.0" y="64.3" font-size="25" fill="#333" text-anchor="start" font-weight="500" font-family="'Liberation Sans',sans-serif" textLength="76.0" lengthAdjust="spacingAndGlyphs" stroke="#333" stroke-width="0.4">信证券</text>
<text x="837.0" y="79.4" font-size="9.6" fill="#2a2a2a" text-anchor="start" font-weight="bold" font-family="'Liberation Sans',sans-serif" textLength="104.0" lengthAdjust="spacingAndGlyphs" >ESSENCE SECURITIES</text>
<text x="48.0" y="74.5" font-size="36.7" fill="#174491" text-anchor="start" font-weight="bold" font-family="'Liberation Sans',sans-serif" textLength="809.0" lengthAdjust="spacingAndGlyphs" stroke="#174491" stroke-width="0.5" stroke-linejoin="round">水污染叠加水资源短缺，水环境治理仍需持续推进</text>
</svg>
</body></html>
